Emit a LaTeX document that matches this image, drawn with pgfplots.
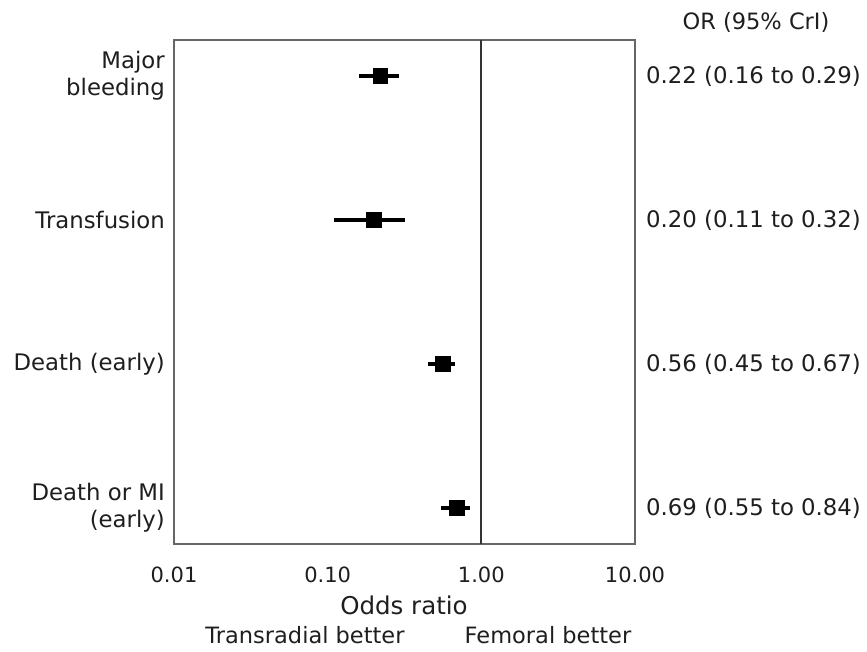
\documentclass[border=0pt]{standalone}
\usepackage{pgfplots}
\pgfplotsset{compat=1.18}
\usepackage{fontspec}
\setmainfont{DejaVu Sans}
\definecolor{txt}{HTML}{1E1E1E}
\begin{document}
\begin{tikzpicture}[x=1pt,y=1pt]
\path[use as bounding box] (0,0) rectangle (867,652);
\begin{axis}[
  at={(174pt,108pt)}, anchor=south west,
  scale only axis, width=461pt, height=504pt,
  xmode=log, xmin=0.01, xmax=10, ymin=0.75, ymax=4.25,
  axis line style={draw=black!60, line width=1.6pt},
  xtick={0.01,0.1,1,10}, xticklabels={0.01,0.10,1.00,10.00},
  ytick={1,2,3,4},
  yticklabels={{Death or MI\\(early)},{Death (early)},{Transfusion},{Major\\bleeding}},
  yticklabel style={align=right, inner sep=0pt, xshift=-9pt, font=\fontsize{22.8}{27}\selectfont, text=txt},
  xticklabel style={inner sep=0pt, yshift=-23pt, font=\fontsize{21}{24}\selectfont, text=txt},
  major tick length=0pt, minor tick length=0pt,
  clip=false,
]
\addplot[black!80, line width=2pt] coordinates {(1,0.75) (1,4.25)};
\addplot[black, line width=4.5pt] coordinates {(0.16,4) (0.29,4)};
\addplot[black, line width=4.5pt] coordinates {(0.11,3) (0.32,3)};
\addplot[black, line width=4.5pt] coordinates {(0.45,2) (0.67,2)};
\addplot[black, line width=4.5pt] coordinates {(0.55,1) (0.84,1)};
\addplot[only marks, mark=square*, mark size=7.3pt, black] coordinates {(0.22,4) (0.20,3) (0.56,2) (0.69,1)};
\begin{scope}[every node/.style={anchor=west, inner sep=0pt, xshift=11pt, font=\fontsize{22.8}{27}\selectfont, text=txt}]
\node at (axis cs:10,4) {0.22 (0.16 to 0.29)};
\node at (axis cs:10,3) {0.20 (0.11 to 0.32)};
\node at (axis cs:10,2) {0.56 (0.45 to 0.67)};
\node at (axis cs:10,1) {0.69 (0.55 to 0.84)};
\end{scope}
\end{axis}
\node[text=txt, font=\fontsize{22.5}{27}\selectfont] at (756,630) {OR (95\% CrI)};
\node[text=txt, font=\fontsize{24.5}{28}\selectfont] at (404,47) {Odds ratio};
\node[text=txt, font=\fontsize{22.5}{27}\selectfont] at (305,17) {Transradial better};
\node[text=txt, font=\fontsize{22.5}{27}\selectfont] at (548,17) {Femoral better};
\end{tikzpicture}
\end{document}
